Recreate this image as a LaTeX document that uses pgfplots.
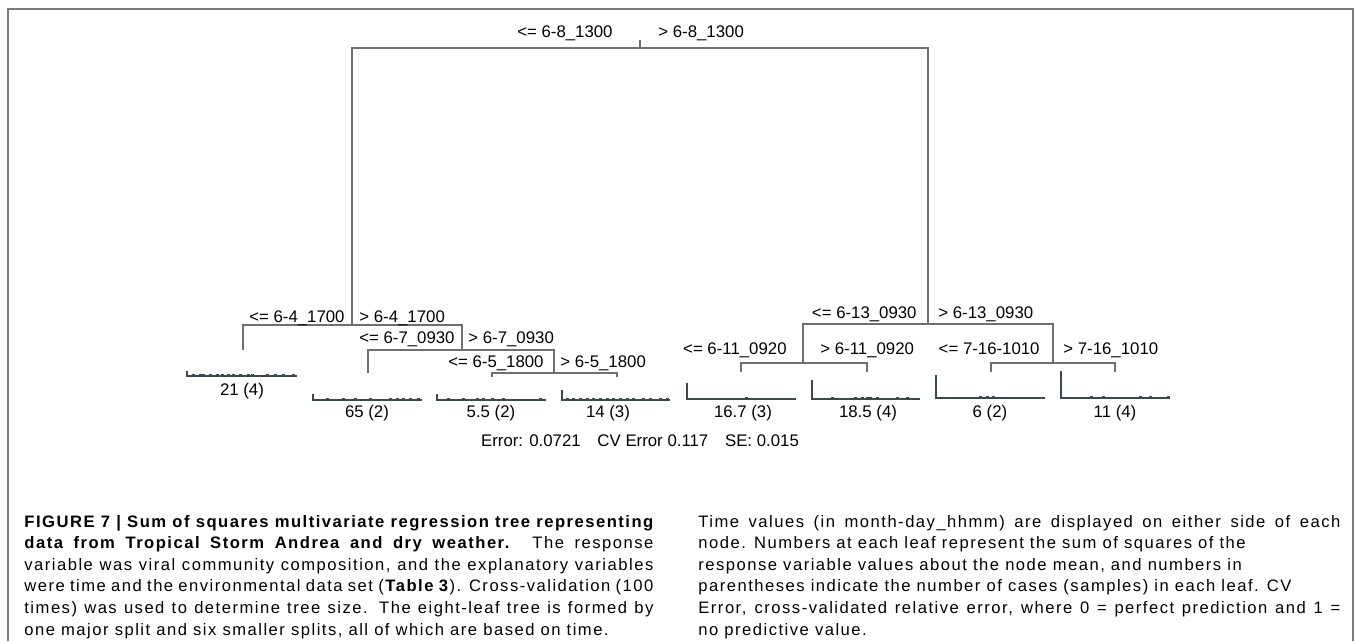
\documentclass[border=0pt]{standalone}
\usepackage{fontspec}
\setmainfont{Liberation Sans}
\newfontfamily\capfont[LetterSpace=9]{Liberation Sans}
\usepackage{pgfplots}
\pgfplotsset{compat=1.18}
\definecolor{treegray}{HTML}{707070}
\definecolor{leafcol}{HTML}{3C4850}
\definecolor{framegray}{HTML}{7A7A7A}
\tikzset{lab/.style={font=\fontsize{8.4}{10}\selectfont, inner sep=0pt}}
\pgfplotsset{
    tree/.style={treegray, line width=0.65pt, mark=none, forget plot},
    leaf/.style={leafcol, line width=0.8pt, mark=none, forget plot},
    dots/.style={leafcol, only marks, mark=square*, mark size=0.45pt, forget plot},
}
\hyphenpenalty=10000
\exhyphenpenalty=10000

\begin{document}
\begin{tikzpicture}
\begin{axis}[
    x=0.5pt, y=0.5pt, y dir=reverse,
    xmin=0, xmax=1355, ymin=0, ymax=641,
    axis lines=none, ticks=none, clip=false,
]
% page extent
\addplot[draw=none, mark=none, forget plot] coordinates {(0,0) (1355,641)};
% frame
\addplot[framegray, line width=0.8pt, mark=none, forget plot] coordinates {(8,641) (8,9) (1353,9) (1353,641)};

% splits
\addplot[tree] coordinates {(640,40) (640,48)};
\addplot[tree] coordinates {(352,325) (352,48) (928,48) (928,324)};
\addplot[tree] coordinates {(243,350) (243,325) (462,325) (462,350)};
\addplot[tree] coordinates {(368,373) (368,350) (554,350) (554,373)};
\addplot[tree] coordinates {(492,377) (492,373) (617,373) (617,377)};
\addplot[tree] coordinates {(803,363) (803,324) (1053,324) (1053,363)};
\addplot[tree] coordinates {(741,372) (741,363) (867,363) (867,372)};
\addplot[tree] coordinates {(991,372) (991,363) (1115,363) (1115,372)};

% leaves: first bar and baseline
\addplot[leaf] coordinates {(187,371) (187,376) (297,376)};
\addplot[leaf] coordinates {(313,394) (313,400) (422,400)};
\addplot[leaf] coordinates {(437,394) (437,400) (546,400)};
\addplot[leaf] coordinates {(562,390) (562,400) (670,400)};
\addplot[leaf] coordinates {(687,383) (687,399) (796,399)};
\addplot[leaf] coordinates {(812,380) (812,399) (920,399)};
\addplot[leaf] coordinates {(936,375) (936,398) (1045,398)};
\addplot[leaf] coordinates {(1061,371) (1061,398) (1170,398)};

% leaves: small bars
\addplot[dots] coordinates {(193,375) (200,375) (203,375) (210,375) (217,375) (222,375) (228,375)
  (233,375) (240,375) (248,375) (252,375) (267,375) (275,375) (283,375) (293,375)};
\addplot[dots] coordinates {(327,399) (343,399) (355,399) (370,399) (390,399) (397,399) (403,399) (410,399) (418,399)};
\addplot[dots] coordinates {(448,399) (463,399) (477,399) (483,399) (492,399) (503,399) (540,399)};
\addplot[dots] coordinates {(567,399) (573,399) (580,399) (587,399) (593,399) (600,399) (607,399)
  (613,399) (620,399) (627,399) (633,399) (643,399) (650,399) (660,399) (667,399)};
\addplot[dots] coordinates {(746,398)};
\addplot[dots] coordinates {(832,398) (855,398) (862,398) (867,398) (870,398) (877,398) (897,398) (907,398)};
\addplot[dots] coordinates {(980,397) (987,397) (993,397)};
\addplot[dots] coordinates {(1091,397) (1103,397) (1140,397) (1150,397) (1168,397)};

% split labels
\node[lab, anchor=mid east] at (613,32) {<= 6-8\_1300};
\node[lab, anchor=mid west] at (658,32) {> 6-8\_1300};
\node[lab, anchor=mid east] at (345,317) {<= 6-4\_1700};
\node[lab, anchor=mid west] at (359,317) {> 6-4\_1700};
\node[lab, anchor=mid east] at (455,338) {<= 6-7\_0930};
\node[lab, anchor=mid west] at (468,338) {> 6-7\_0930};
\node[lab, anchor=mid east] at (544,362) {<= 6-5\_1800};
\node[lab, anchor=mid west] at (560,362) {> 6-5\_1800};
\node[lab, anchor=mid east] at (917,313) {<= 6-13\_0930};
\node[lab, anchor=mid west] at (938,313) {> 6-13\_0930};
\node[lab, anchor=mid east] at (787,349) {<= 6-11\_0920};
\node[lab, anchor=mid west] at (820,349) {> 6-11\_0920};
\node[lab, anchor=mid east] at (1040,349) {<= 7-16-1010};
\node[lab, anchor=mid west] at (1063,349) {> 7-16\_1010};

% leaf labels
\node[lab] at (242,391) {21 (4)};
\node[lab] at (367,413) {65 (2)};
\node[lab] at (491,413) {5.5 (2)};
\node[lab] at (608,413) {14 (3)};
\node[lab] at (743,413) {16.7 (3)};
\node[lab] at (868,413) {18.5 (4)};
\node[lab] at (990,413) {6 (2)};
\node[lab] at (1115,413) {11 (4)};
\node[lab] at (640,441) {Error: 0.0721\quad CV Error 0.117\quad SE: 0.015};

% caption
\node[inner sep=0pt, anchor=base west] at (24,527) {\parbox[t]{314.5pt}{\capfont\fontsize{8.3}{10.8}\selectfont
\textbf{FIGURE 7 | Sum of squares multivariate regression tree representing\linebreak
data from Tropical Storm Andrea and dry weather.} The response\linebreak
variable was viral community composition, and the explanatory variables\linebreak
were time and the environmental data set (\textbf{Table 3}). Cross-validation (100\linebreak
times) was used to determine tree size. The eight-leaf tree is formed by\linebreak
one major split and six smaller splits, all of which are based on time.}};
\node[inner sep=0pt, anchor=base west] at (698,527) {\parbox[t]{321pt}{\capfont\fontsize{8.3}{10.8}\selectfont
Time values (in month-day\_hhmm) are displayed on either side of each\linebreak
node. Numbers at each leaf represent the sum of squares of the\\
response variable values about the node mean, and numbers in\\
parentheses indicate the number of cases (samples) in each leaf. CV\\
Error, cross-validated relative error, where 0 = perfect prediction and 1 =\linebreak
no predictive value.}};
\end{axis}
\end{tikzpicture}
\end{document}
